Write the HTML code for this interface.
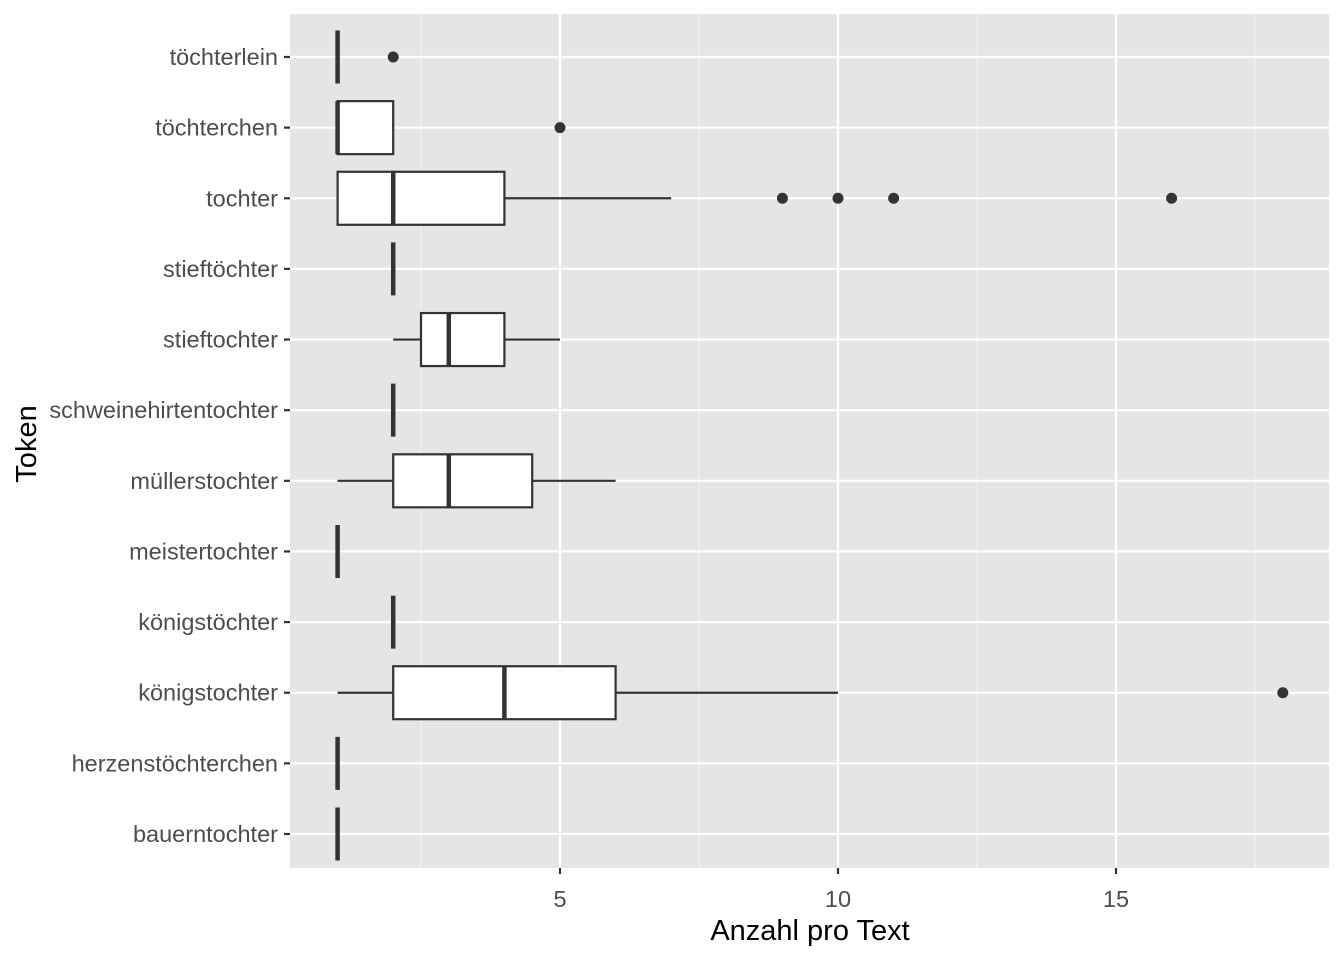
<!DOCTYPE html>
<html><head><meta charset="utf-8"><style>body{margin:0;background:#fff}svg{display:block}</style></head>
<body>
<svg id="chart" width="1344" height="960" xmlns="http://www.w3.org/2000/svg" font-family="Liberation Sans, sans-serif"></svg>
<script>
const categories=["töchterlein","töchterchen","tochter","stieftöchter","stieftochter","schweinehirtentochter","müllerstochter","meistertochter","königstöchter","königstochter","herzenstöchterchen","bauerntochter"];
const lowWhisker=[1,1,1,2,2,2,1,1,2,1,1,1];
const q1=[1,1,1,2,2.5,2,2,1,2,2,1,1];
const median=[1,1,2,2,3,2,3,1,2,4,1,1];
const q3=[1,2,4,2,4,2,4.5,1,2,6,1,1];
const highWhisker=[1,2,7,2,5,2,6,1,2,10,1,1];
const outliers=[[2],[5],[9,10,11,16],[],[],[],[],[],[],[18],[],[]];
const majorTicks=[5,10,15];
const minorTicks=[2.5,7.5,12.5,17.5];
const NS="http://www.w3.org/2000/svg";
const svg=document.getElementById('chart');
const L=290,R=1329,T=14,B=868;
const xs=v=>560+(v-5)*55.6;
const ys=i=>57+i*70.636;
function el(t,a,p){const e=document.createElementNS(NS,t);for(const k in a)e.setAttribute(k,a[k]);(p||svg).appendChild(e);return e;}
const bg=el('rect',{x:L,y:T,width:R-L,height:B-T,fill:'#e5e5e5'});

minorTicks.forEach(v=>{const g=el('line',{x1:xs(v),x2:xs(v),y1:T,y2:B,stroke:'#f2f2f2','stroke-width':1.1});
});
majorTicks.forEach(v=>{const g=el('line',{x1:xs(v),x2:xs(v),y1:T,y2:B,stroke:'#fff','stroke-width':2.2});

const tk=el('line',{x1:xs(v),x2:xs(v),y1:B,y2:B+6,stroke:'#333','stroke-width':2.2});

const t=el('text',{x:xs(v),y:907,'text-anchor':'middle','font-size':23.5,fill:'#4d4d4d'});t.textContent=v;
});
categories.forEach((c,i)=>{const y=ys(i);
const g=el('line',{x1:L,x2:R,y1:y,y2:y,stroke:'#fff','stroke-width':2.2});

const tk=el('line',{x1:L-6,x2:L,y1:y,y2:y,stroke:'#333','stroke-width':2.2});

const t=el('text',{x:L-12,y:y+8,'text-anchor':'end','font-size':23.5,fill:'#4d4d4d'});t.textContent=c;
});
categories.forEach((c,i)=>{const y=ys(i),h=26.5;
const g=el('g',{});
el('line',{x1:xs(lowWhisker[i]),x2:xs(q1[i]),y1:y,y2:y,stroke:'#333','stroke-width':2.2},g);
el('line',{x1:xs(q3[i]),x2:xs(highWhisker[i]),y1:y,y2:y,stroke:'#333','stroke-width':2.2},g);
el('rect',{x:xs(q1[i]),y:y-h,width:xs(q3[i])-xs(q1[i]),height:2*h,fill:'#fff',stroke:'#333','stroke-width':2.2},g);
el('line',{x1:xs(median[i]),x2:xs(median[i]),y1:y-h,y2:y+h,stroke:'#333','stroke-width':4.5},g);
outliers[i].forEach(v=>{const p=el('circle',{cx:xs(v),cy:y,r:5.5,fill:'#333'},g);
});});
const xt=el('text',{x:810,y:940,'text-anchor':'middle','font-size':29,fill:'#000'});xt.textContent='Anzahl pro Text';

const yt=el('text',{x:0,y:0,'text-anchor':'middle','font-size':29,fill:'#000',transform:'translate(36,444) rotate(-90)'});yt.textContent='Token';

</script>
</body></html>
